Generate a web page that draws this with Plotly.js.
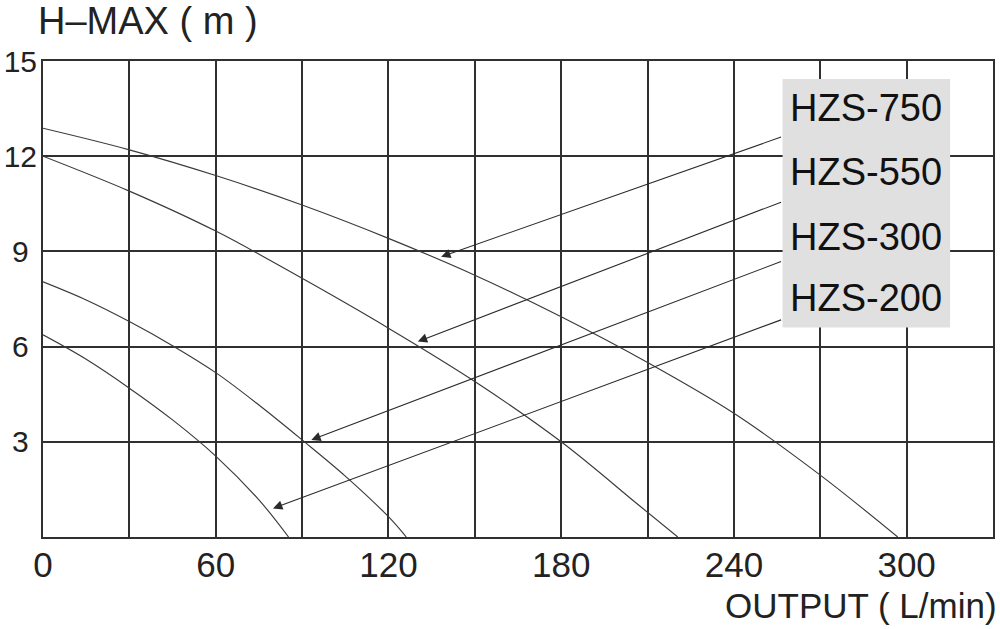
<!DOCTYPE html>
<html>
<head>
<meta charset="utf-8">
<script src="https://cdn.plot.ly/plotly-3.0.1.min.js"></script>
<style>html,body{margin:0;padding:0;background:#fff;}#chart{width:1000px;height:629px;}</style>
</head>
<body>
<div id="chart"></div>
<script>
// Flow (L/min) vs head (m) readings for each pump model
const flow750 = [0, 30, 60, 90, 120, 150, 180, 210, 240, 270, 296.9];
const head750 = [12.88, 12.2, 11.39, 10.46, 9.41, 8.25, 6.94, 5.5, 3.9, 1.95, 0];
const flow550 = [0, 30, 60, 90, 120, 150, 180, 207, 220.5];
const head550 = [12.0, 10.9, 9.64, 8.15, 6.58, 4.9, 3.0, 1.0, 0];
const flow300 = [0, 15, 30, 45, 60, 75, 90, 105, 120, 126.2];
const head300 = [8.04, 7.47, 6.79, 6.03, 5.18, 4.16, 3.06, 1.92, 0.64, 0];
const flow200 = [0, 15, 30, 45, 60, 75, 85.3];
const head200 = [6.37, 5.6, 4.69, 3.69, 2.55, 1.17, 0];

const modelNames = ["HZS-750", "HZS-550", "HZS-300", "HZS-200"];
const xTickVals = [0, 30, 60, 90, 120, 150, 180, 210, 240, 270, 300, 330];
const xTickText = ["0", "", "60", "", "120", "", "180", "", "240", "", "300", ""];
const yTickVals = [0, 3, 6, 9, 12, 15];
const yTickText = ["", "3\u00a0", "6\u00a0", "9\u00a0", "12", "15"];

const series = [
  [flow750, head750],
  [flow550, head550],
  [flow300, head300],
  [flow200, head200]
];

const curveColor = "#3a3a3a";
const gridColor = "#303030";
const font = "Liberation Sans, Arial, sans-serif";

const traces = series.map((s, i) => ({
  x: s[0], y: s[1], name: modelNames[i], type: "scatter", mode: "lines",
  line: {color: curveColor, width: 1.15, shape: "spline", smoothing: 1.0},
  hoverinfo: "skip", cliponaxis: true
}));

// label box and arrows
const labelX = 258.8;
const labelY = [13.52, 11.51, 9.46, 7.52];
const arrowTails = [[256.9, 12.62], [256.9, 10.57], [256.9, 8.70], [256.9, 6.86]];
const arrowHeads = [[138.3, 8.83], [130.2, 6.16], [93.2, 3.06], [79.9, 0.90]];

const annotations = [];
modelNames.forEach((n, i) => {
  annotations.push({
    x: arrowHeads[i][0], y: arrowHeads[i][1], xref: "x", yref: "y",
    ax: arrowTails[i][0], ay: arrowTails[i][1], axref: "x", ayref: "y",
    showarrow: true, arrowhead: 2, arrowsize: 1.7, arrowwidth: 1.1,
    arrowcolor: "#2a2a2a", text: "", standoff: 0, startstandoff: 0
  });
  annotations.push({
    x: labelX, y: labelY[i], xref: "x", yref: "y", xanchor: "left", yanchor: "middle",
    text: n, showarrow: false, font: {family: font, size: 38, color: "#111"}
  });
});
annotations.push({
  x: -0.0075, y: 1.085, xref: "paper", yref: "paper", xanchor: "left", yanchor: "middle",
  text: "H\u2013MAX ( m )", showarrow: false, font: {family: font, size: 38, color: "#222"}
});
annotations.push({
  x: 1.0065, y: -0.143, xref: "paper", yref: "paper", xanchor: "right", yanchor: "middle",
  text: "OUTPUT ( L/min)", showarrow: false, font: {family: font, size: 35, color: "#222"}
});

const layout = {
  width: 1000, height: 629,
  margin: {l: 43, r: 7, t: 61, b: 92, pad: 0},
  paper_bgcolor: "#ffffff", plot_bgcolor: "#ffffff",
  showlegend: false,
  xaxis: {
    range: [0, 330], tickmode: "array", tickvals: xTickVals, ticktext: xTickText,
    showgrid: true, gridcolor: gridColor, gridwidth: 2,
    showline: true, mirror: true, linecolor: gridColor, linewidth: 2,
    zeroline: false, ticks: "", tickfont: {family: font, size: 35, color: "#222"},
    ticklabelstandoff: -4,
    fixedrange: true
  },
  yaxis: {
    range: [0, 15], tickmode: "array", tickvals: yTickVals, ticktext: yTickText,
    showgrid: true, gridcolor: gridColor, gridwidth: 2,
    showline: true, mirror: true, linecolor: gridColor, linewidth: 2,
    zeroline: false, ticks: "", tickfont: {family: font, size: 30, color: "#222"},
    ticklabelstandoff: -2,
    fixedrange: true
  },
  shapes: [{
    type: "rect", xref: "x", yref: "y", x0: 256.9, x1: 315.1, y0: 6.6, y1: 14.43,
    fillcolor: "#e0e0e0", line: {width: 0}, layer: "above"
  }],
  annotations: annotations
};

Plotly.newPlot("chart", traces, layout, {staticPlot: true, displayModeBar: false});
</script>
</body>
</html>
